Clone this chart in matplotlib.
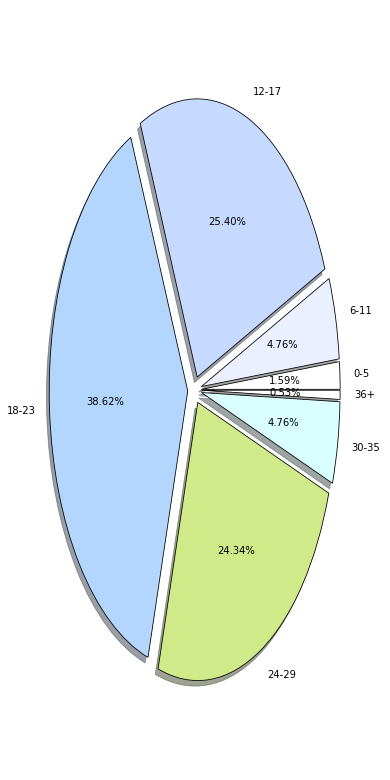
import matplotlib
matplotlib.use("Agg")
import matplotlib.pyplot as plt

# Age groups and counts (percentages out of 189)
labels = ['0-5', '6-11', '12-17', '18-23', '24-29', '30-35', '36+']
counts = [3, 9, 48, 73, 46, 9, 1]
colors = ['#ffffff', '#eaf0ff', '#c6d9ff', '#b3d6ff', '#d0ea8a', '#d9ffff', '#ffffff']
explode = [0.05] * len(labels)

fig = plt.figure(figsize=(390 / 72, 780 / 72), dpi=72)
ax = fig.add_axes([0, 0, 1, 1])

ax.pie(counts, labels=labels, colors=colors, explode=explode, autopct='%1.2f%%',
       shadow=True, startangle=0, wedgeprops=dict(edgecolor='black', linewidth=0.8))

ax.set_aspect('auto')
ax.set_xlim(-1.405, 1.41)
ax.set_ylim(-1.402, 1.402)
ax.axis('off')

plt.savefig("out.png", dpi=72)
